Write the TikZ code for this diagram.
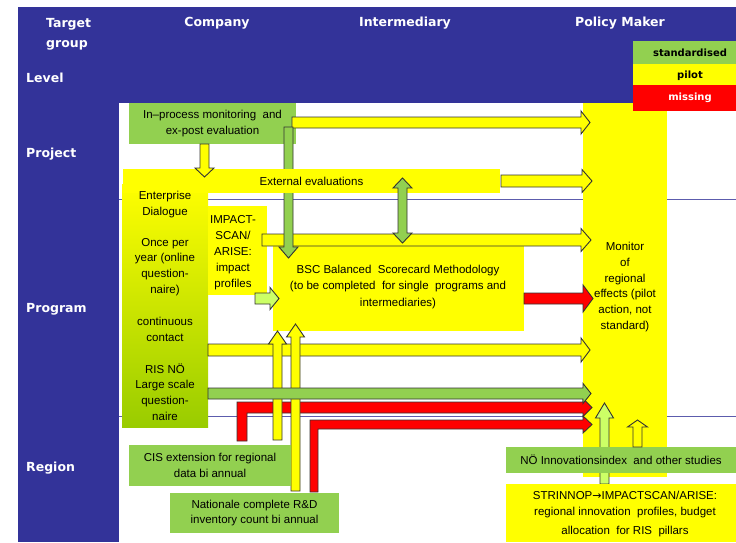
\documentclass[tikz,border=0pt]{standalone}
\usepackage{fontspec}
\setmainfont{Liberation Sans}
\newfontfamily\hdrfont{DejaVu Sans}
\newfontfamily\symfont{DejaVu Sans}
\definecolor{hdrblue}{HTML}{333399}
\definecolor{stdgreen}{HTML}{92D050}
\definecolor{pilotyel}{HTML}{FFFF00}
\definecolor{missred}{HTML}{FF0000}
\definecolor{lightgreen}{HTML}{CCFF66}
\definecolor{entgreen}{HTML}{99CC00}
\newcommand\bodyfont{\fontsize{11.5}{15.7}\selectfont}
\tikzset{
  hdr/.style={text=white, inner sep=0pt, font=\hdrfont\bfseries\fontsize{12.5}{20}\selectfont},
  lvl/.style={hdr, anchor=west},
  legtxt/.style={inner sep=0pt, font=\hdrfont\bfseries\fontsize{10}{12}\selectfont},
  box/.style={rectangle, inner sep=0pt, align=center, font=\bodyfont},
  txt/.style={inner sep=0pt, align=center, font=\bodyfont},
  arr/.style={draw=black!80, line width=0.9pt, line join=miter},
  sepline/.style={draw=hdrblue!80, line width=0.8pt}
}
\newcommand\HArrow[7]{\draw[arr,#1] (#3,{#2-#6}) -- (#4,{#2-#6}) -- (#4,{#2-#7}) -- (#5,#2) -- (#4,{#2+#7}) -- (#4,{#2+#6}) -- (#3,{#2+#6}) -- cycle;}
\newcommand\VArrow[7]{\draw[arr,#1] ({#2-#6},#3) -- ({#2-#6},#4) -- ({#2-#7},#4) -- (#2,#5) -- ({#2+#7},#4) -- ({#2+#6},#4) -- ({#2+#6},#3) -- cycle;}
\begin{document}
\begin{tikzpicture}[x=1pt,y=-1pt]
\useasboundingbox (0,0) rectangle (736,542);
\fill[white] (0,0) rectangle (736,542);
% header band and level column
\fill[hdrblue] (18,7) rectangle (736,103);
\fill[hdrblue] (18,103) rectangle (119,542);
\draw[sepline] (119,199) -- (736,199);
\draw[sepline] (119,416) -- (736,416);
% policy maker column
\node[box, fill=pilotyel, minimum width=84, minimum height=374] (policy) at (625,290) {};
\node[txt] (policytxt) at (625,287) {Monitor\\of\\regional\\effects (pilot\\action, not\\standard)};
% boxes
\node[box, fill=stdgreen, minimum width=167, minimum height=41] (inproc) at (212.5,123.5) {In–process monitoring\ \ and\\ex-post evaluation};
\node[box, minimum width=86, minimum height=243, top color=pilotyel, bottom color=entgreen] (entdlg) at (165,305.5) {};
\node[box, fill=pilotyel, minimum width=59, minimum height=89] (impact) at (237.5,250.5) {};
\node[txt, font=\fontsize{11.5}{16}\selectfont] (impacttxt) at (233,253) {IMPACT-\\SCAN/\\ARISE:\\impact\\profiles};
\node[box, fill=pilotyel, minimum width=251, minimum height=85] (bsc) at (398.5,288.5) {};
\node[txt, font=\fontsize{11.5}{16.5}\selectfont] (bsctxt) at (398,287) {BSC Balanced\ \ Scorecard Methodology\\(to be completed\ \ for single\ \ programs and\\intermediaries)};
% arrows
\HArrow{fill=pilotyel}{122.5}{292}{581}{590}{5.5}{11.5}
\HArrow{fill=pilotyel}{240}{262}{581}{591}{6}{11.5}
\VArrow{fill=stdgreen}{288.5}{127}{247}{258}{4.5}{9.5}
\node[box, fill=pilotyel, minimum width=377, minimum height=24] (exteval) at (311.5,181) {External evaluations};
\node[txt] (ent1) at (165,204.5) {Enterprise\\Dialogue};
\node[txt] (ent2) at (165,267) {Once per\\year (online\\question-\\naire)};
\node[txt] (ent3) at (165,329.5) {continuous\\contact};
\node[txt] (ent4) at (165,392) {RIS NÖ\\Large scale\\question-\\naire};
\VArrow{fill=pilotyel}{204.5}{144}{168}{177}{4.5}{9.5}
\HArrow{fill=pilotyel}{181}{501}{582}{592}{6}{11.5}
\draw[arr, fill=stdgreen] (402.5,178) -- (412,188) -- (407,188) -- (407,233) -- (412,233) -- (402.5,243) -- (393,233) -- (398,233) -- (398,188) -- (393,188) -- cycle;
\HArrow{fill=lightgreen}{298.5}{255}{270}{279}{5.5}{11}
\HArrow{fill=missred}{298.5}{524}{583}{593}{5.5}{13.5}
\HArrow{fill=pilotyel}{350}{208}{581}{590}{6}{12}
\draw[arr, fill=missred] (237,441) -- (237,402) -- (583,402) -- (583,398.5) -- (592,407.5) -- (583,416.5) -- (583,413) -- (247,413) -- (247,441) -- cycle;
\draw[arr, fill=missred] (310,492) -- (310,420) -- (583,420) -- (583,416) -- (592,424.5) -- (583,433) -- (583,429) -- (318,429) -- (318,492) -- cycle;
\VArrow{fill=pilotyel}{277.5}{440}{344}{331}{4.5}{9}
\VArrow{fill=pilotyel}{295.5}{491}{337}{324}{4.5}{9}
\HArrow{fill=stdgreen}{393.5}{208}{583}{591}{5.5}{10}
% bottom boxes
\node[box, fill=stdgreen, minimum width=162, minimum height=41] (cis) at (210,465.5) {CIS extension for regional\\data bi annual};
\node[box, fill=stdgreen, minimum width=169, minimum height=40] (nat) at (254.5,513) {Nationale complete R\&D\\inventory count bi annual};
\VArrow{fill=lightgreen}{604.5}{484}{418}{403}{4.5}{9}
\node[box, fill=stdgreen, minimum width=230, minimum height=26] (noe) at (621,460) {NÖ Innovationsindex\ \ and other studies};
\VArrow{fill=pilotyel}{637.5}{447}{427}{420}{4.5}{10}
\node[box, fill=pilotyel, minimum width=230, minimum height=58] (strin) at (621,513) {};
\node[txt, font=\fontsize{11.5}{16}\selectfont] (strintxt) at (625,514) {STRINNOP{\symfont\fontsize{11}{16}\selectfont→}IMPACTSCAN/ARISE:\\regional innovation\ \ profiles, budget\\[3pt]allocation\ \ for RIS\ \ pillars};
% legend
\node[box, fill=stdgreen, minimum width=103, minimum height=23] (legstd) at (684.5,52.5) {};
\node[box, fill=pilotyel, minimum width=103, minimum height=21] (legpil) at (684.5,74.5) {};
\node[box, fill=missred, minimum width=103, minimum height=26] (legmis) at (684.5,98) {};
\node[legtxt] (legstdtxt) at (690,52.5) {standardised};
\node[legtxt] (legpiltxt) at (690,76) {pilot};
\node[legtxt, text=white] (legmistxt) at (690,98) {missing};
% header texts
\node[hdr, align=left, anchor=west] (tgt) at (46,34) {Target\\group};
\node[hdr] (hcomp) at (217,23) {Company};
\node[hdr] (hint) at (405,23) {Intermediary};
\node[hdr] (hpol) at (620,23) {Policy Maker};
\node[lvl] (llevel) at (26,78) {Level};
\node[lvl] (lproj) at (26,154) {Project};
\node[lvl] (lprog) at (26,309) {Program};
\node[lvl] (lreg) at (26,468) {Region};
\end{tikzpicture}
\end{document}
